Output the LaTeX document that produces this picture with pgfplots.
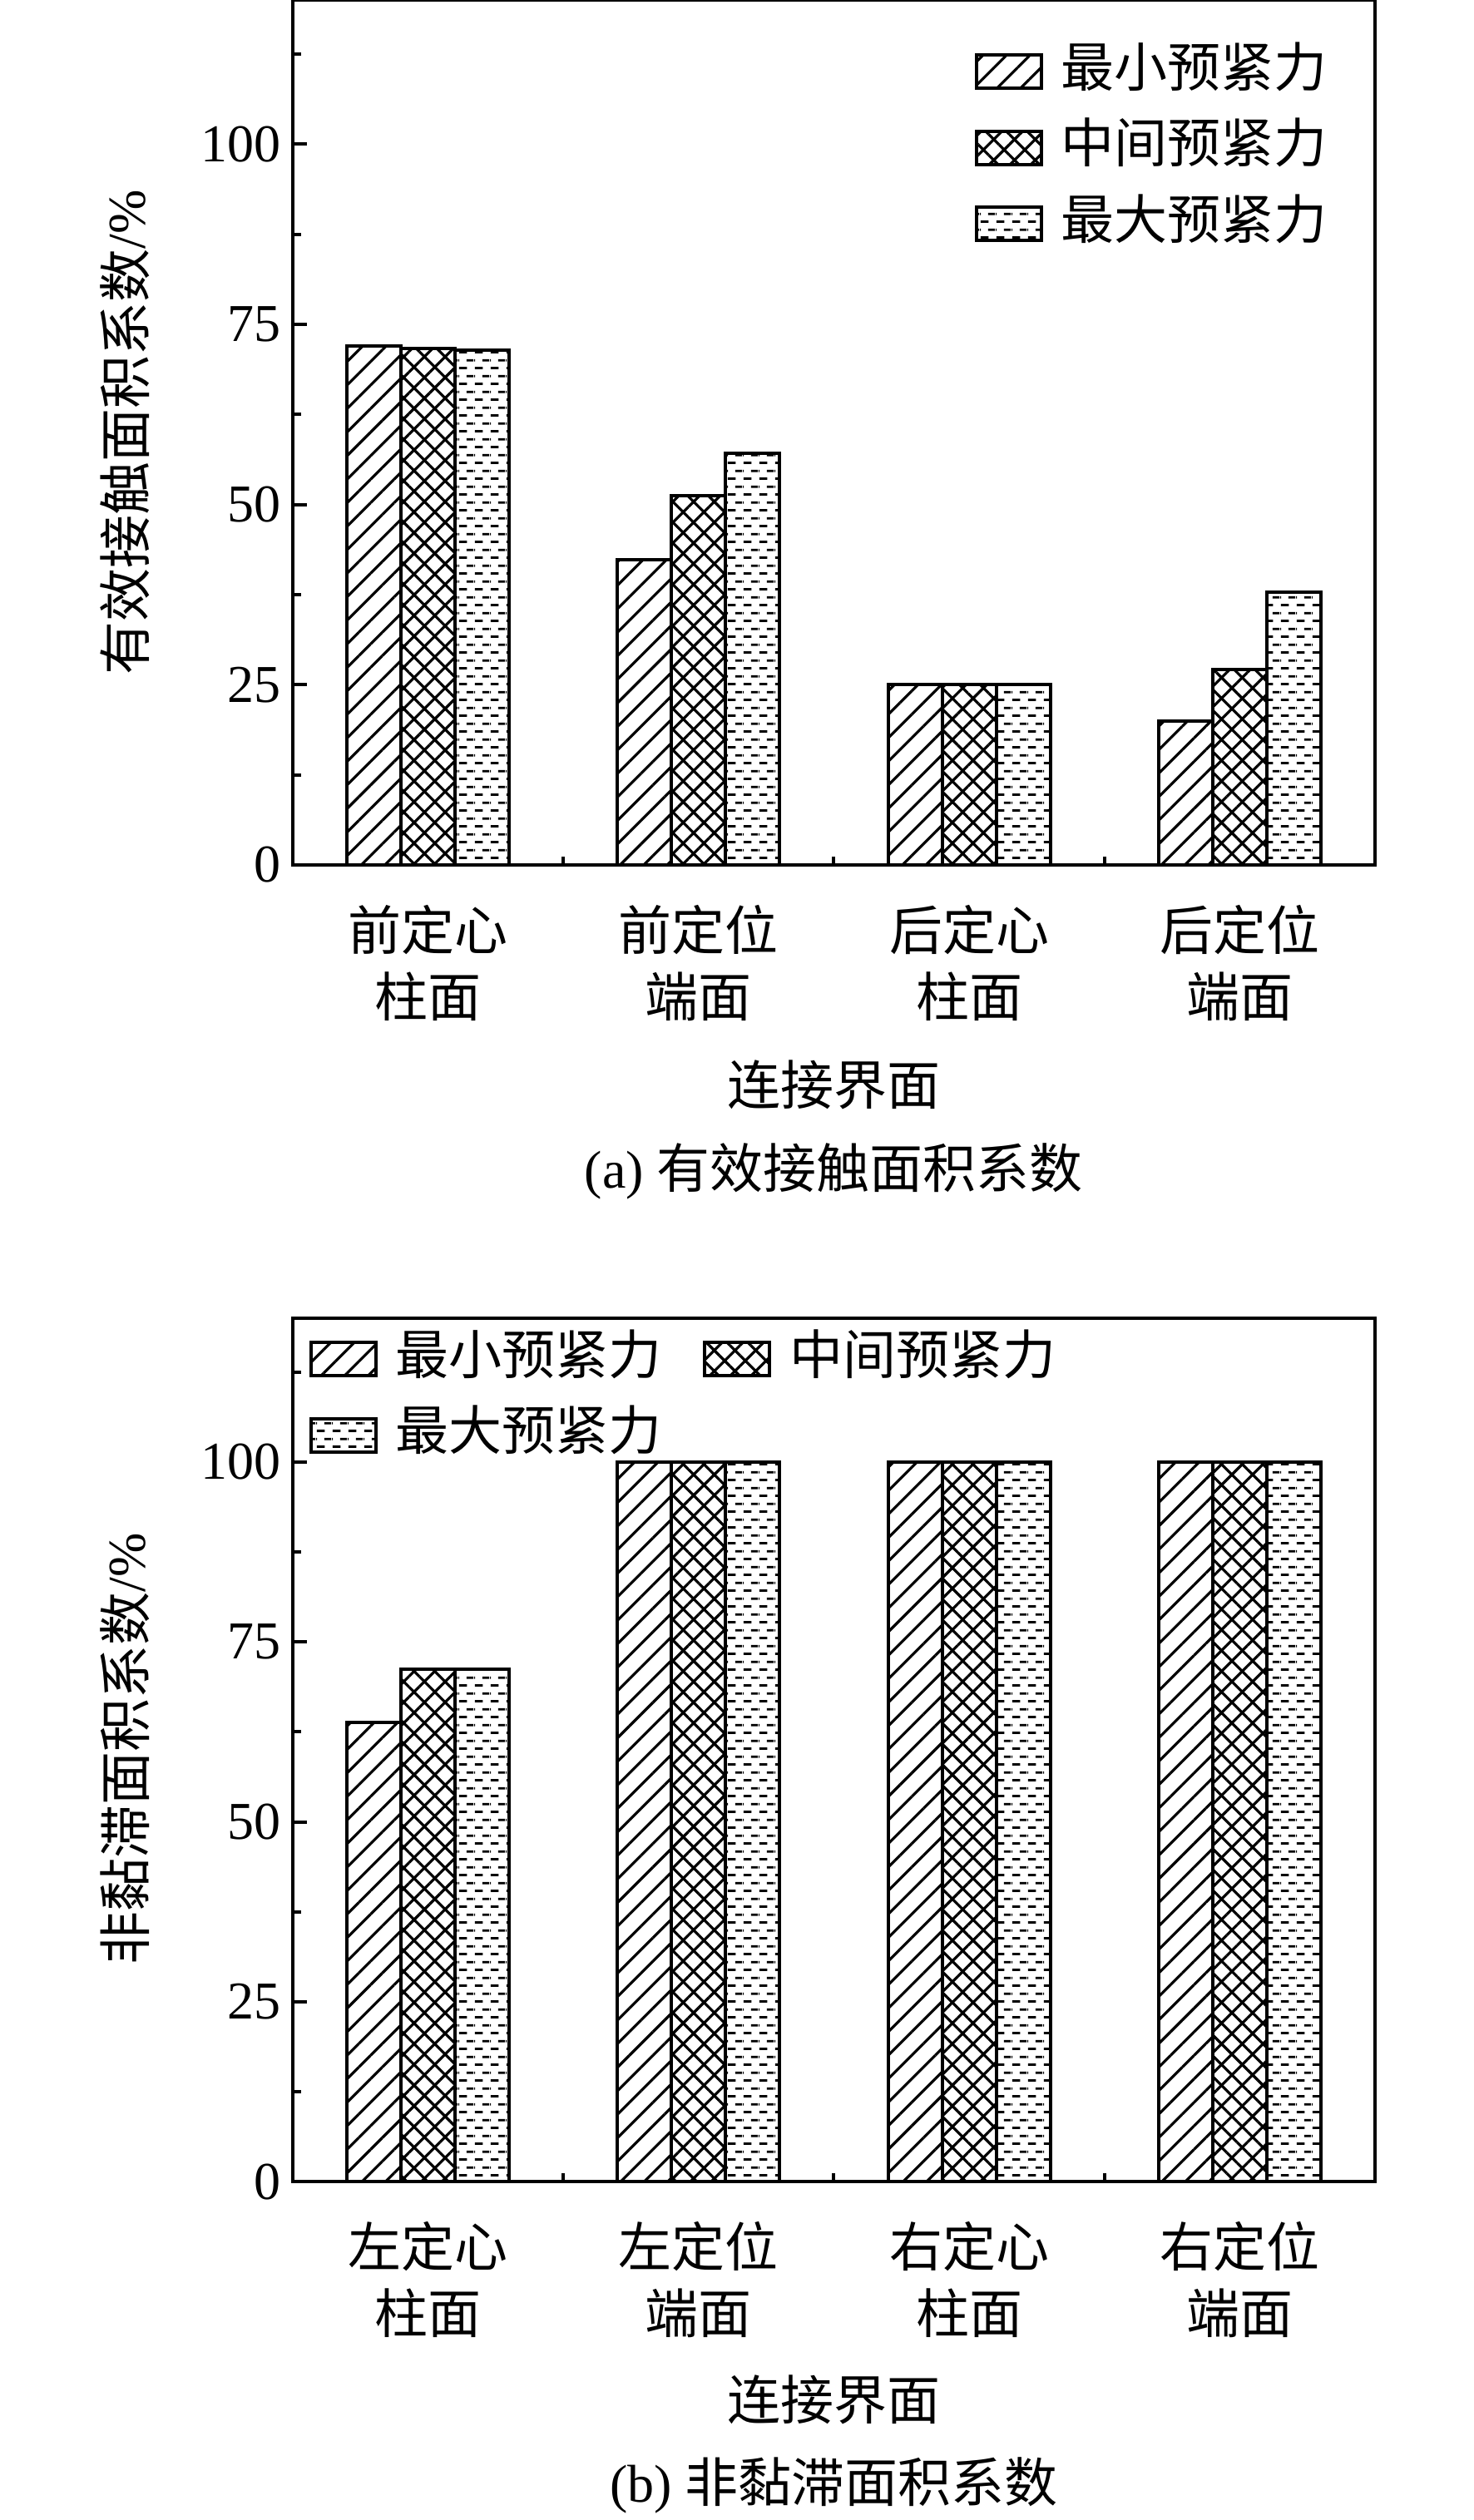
\documentclass[border=0pt]{standalone}
\usepackage{fontspec}
\setmainfont{Liberation Serif}
\newfontfamily\cjk{Noto Sans CJK SC}
\usepackage{pgfplots}
\pgfplotsset{compat=1.18}
\usetikzlibrary{patterns,patterns.meta}

\pgfdeclarepattern{
  name=dashrows,
  type=uncolored,
  bottom left={\pgfpointorigin},
  top right={\pgfpoint{4.75pt}{4.66pt}},
  tile size={\pgfpoint{4.75pt}{4.66pt}},
  code={
    \pgfsetlinewidth{0.7pt}
    \pgfpathmoveto{\pgfpoint{0.2pt}{1.17pt}}\pgfpathlineto{\pgfpoint{2.7pt}{1.17pt}}
    \pgfpathmoveto{\pgfpoint{2.575pt}{3.5pt}}\pgfpathlineto{\pgfpoint{4.75pt}{3.5pt}}
    \pgfpathmoveto{\pgfpoint{0pt}{3.5pt}}\pgfpathlineto{\pgfpoint{0.325pt}{3.5pt}}
    \pgfusepath{stroke}
  }
}

\pgfplotsset{
  mybar/.style={
    width=325.25pt, height=260pt, scale only axis,
    axis line style={line width=1.1pt},
    ybar, bar width=0.2,
    xmin=-0.5, xmax=3.5, ymin=0, ymax=120,
    xtick={0,1,2,3},
    major x tick style={draw=none},
    minor xtick={0.5,1.5,2.5},
    ytick={0,25,50,75,100},
    minor ytick={12.5,37.5,62.5,87.5,112.5},
    tick pos=left, tick align=inside,
    major tick length=4.2pt, minor tick length=2.4pt,
    every tick/.style={line width=1pt, black},
    /pgf/number format/assume math mode=true,
    yticklabel style={font=\fontsize{16}{19}\selectfont},
    xticklabel style={align=center, font=\fontsize{16}{20}\selectfont\cjk, yshift=-8.5pt},
    legend image code/.code={\draw[##1,line width=1pt] (0pt,-5pt) rectangle (19.6pt,5pt);},
    legend cell align=left,
  },
  s1/.style={draw=black, line width=1pt, pattern={Lines[angle=45,distance=5pt,line width=0.8pt]}},
  s2/.style={draw=black, line width=1pt, pattern={Hatch[angle=45,distance=4.4pt,line width=0.8pt]}},
  s3/.style={draw=black, line width=1pt, pattern=dashrows},
}

\begin{document}
\begin{tikzpicture}
% ---------- (a) ----------
\begin{axis}[mybar, at={(88pt,-260pt)}, anchor=south west,
  xticklabels={{前定心\\柱面},{前定位\\端面},{后定心\\柱面},{后定位\\端面}},
  legend style={draw=none, fill=none, inner sep=0pt, outer sep=0pt,
    font=\fontsize{16}{19}\selectfont\cjk,
    nodes={inner xsep=5.44pt, inner ysep=0pt, text height=12pt, text depth=3pt},
    row sep=7.9pt, column sep=0pt,
    at={(0.630,0.829)}, anchor=west},
]
\addplot[s1, bar shift=-0.2] coordinates {(0,72.0) (1,42.4) (2,25.0) (3,20.0)};
\addlegendentry{最小预紧力}
\addplot[s2, bar shift=0] coordinates {(0,71.7) (1,51.2) (2,25.0) (3,27.1)};
\addlegendentry{中间预紧力}
\addplot[s3, bar shift=0.2] coordinates {(0,71.4) (1,57.1) (2,25.0) (3,37.8)};
\addlegendentry{最大预紧力}
\end{axis}
\node[rotate=90, font=\fontsize{16}{19}\selectfont] at (37.5pt,-130pt) {{\cjk 有效接触面积系数}/\%};
\node[font=\fontsize{16}{19}\selectfont\cjk] at (250.6pt,-326pt) {连接界面};
\node[font=\fontsize{16}{19}\selectfont] at (250.6pt,-352pt) {(a) {\cjk 有效接触面积系数}};

% ---------- (b) ----------
\begin{axis}[mybar, at={(88pt,-655.75pt)}, anchor=south west, height=259.5pt,
  xticklabels={{左定心\\柱面},{左定位\\端面},{右定心\\柱面},{右定位\\端面}},
  legend columns=2,
  legend style={draw=none, fill=none, inner sep=0pt, outer sep=0pt,
    font=\fontsize{16}{19}\selectfont\cjk,
    nodes={inner xsep=5.44pt, inner ysep=0pt, text height=12pt, text depth=3pt},
    row sep=7.9pt, column sep=0pt,
    /tikz/every even column/.append style={column sep=6.9pt},
    at={(0.0150,0.9085)}, anchor=west},
]
\addplot[s1, bar shift=-0.2] coordinates {(0,63.8) (1,100) (2,100) (3,100)};
\addlegendentry{最小预紧力}
\addplot[s2, bar shift=0] coordinates {(0,71.2) (1,100) (2,100) (3,100)};
\addlegendentry{中间预紧力}
\addplot[s3, bar shift=0.2] coordinates {(0,71.2) (1,100) (2,100) (3,100)};
\addlegendentry{最大预紧力}
\end{axis}
\node[rotate=90, font=\fontsize{16}{19}\selectfont] at (37.5pt,-525.75pt) {{\cjk 非黏滞面积系数}/\%};
\node[font=\fontsize{16}{19}\selectfont\cjk] at (250.6pt,-721.25pt) {连接界面};
\node[font=\fontsize{16}{19}\selectfont] at (250.6pt,-747pt) {(b) {\cjk 非黏滞面积系数}};

\pgfresetboundingbox
\path[use as bounding box] (0pt,0pt) rectangle (443pt,-757.5pt);
\end{tikzpicture}
\end{document}
